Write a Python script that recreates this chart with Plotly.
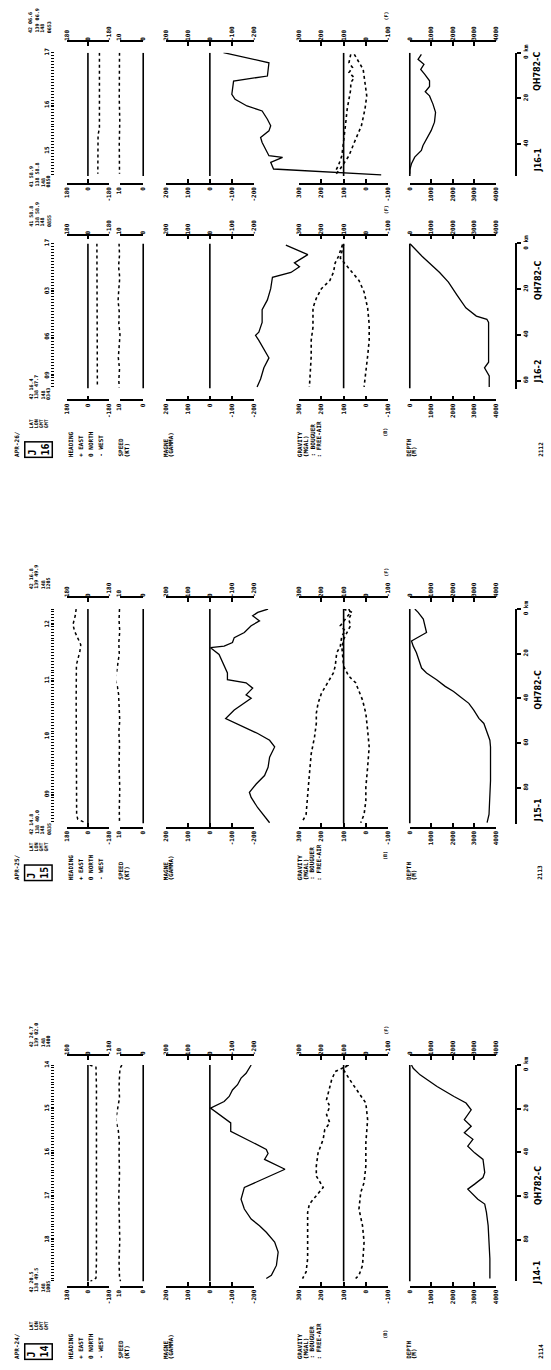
import plotly.graph_objects as go

W, H = 551, 1370
FONT = "DejaVu Sans Mono"

# ---------------------------------------------------------------- data
# distance along track (km) and values

# ---- line J16-1 (upper segment of sheet 2112)
J161_HEAD_KM = [0, 20, 33, 36, 53]
J161_HEAD = [-100, -98, -100, -88, -86]
J161_SPEED_KM = [0, 10, 20, 30, 40, 53]
J161_SPEED = [10.0, 10.2, 10.1, 9.9, 10.1, 10.0]
J161_MAG_KM = [0, 4.4, 10.2, 12.4, 18.2, 20.4, 23.3, 25.5, 29.1, 32, 34.2, 37.1, 39.3, 42.2, 45.1, 45.8, 48, 50.9, 53.5]
J161_MAG = [-62, -269, -262, -108, -100, -115, -169, -238, -262, -277, -269, -231, -238, -254, -269, -331, -277, -290, -780]
J161_BOUG_KM = [0.7, 4.4, 6.5, 8.7, 10.9, 13.1, 16, 20.4, 24.7, 32, 39.3, 45.1, 49.5, 52.4]
J161_BOUG = [68, 76, 60, 76, 52, 68, 68, 76, 84, 92, 100, 108, 124, 140]
J161_FAIR_KM = [0.7, 4.4, 7.3, 13.1, 18.9, 24.7, 32, 39.3, 45.1, 50.9, 53.8]
J161_FAIR = [52, 28, 12, 4, -4, 4, 20, 52, 76, 116, 140]
J161_DEPTH_KM = [0.7, 2.9, 5.1, 7.3, 9.4, 12.3, 14.8, 17.1, 18.9, 22.5, 26.1, 30.4, 34, 37.7, 40.6, 42.8, 45.7, 48.6, 51.4, 53]
J161_DEPTH = [540, 385, 660, 510, 690, 920, 920, 720, 920, 1080, 1200, 1150, 1000, 770, 615, 540, 230, 77, 0, 0]

# ---- line J16-2 (lower segment of sheet 2112)
J162_HEAD_KM = [0, 20, 40, 63]
J162_HEAD = [-78, -80, -82, -82]
J162_SPEED_KM = [0, 5, 10, 15, 20, 25, 30, 35, 40, 45, 50, 55, 60, 63]
J162_SPEED = [10.2, 10.0, 10.4, 9.9, 10.3, 10.6, 10.1, 10.3, 9.8, 10.2, 10.5, 10.0, 10.3, 10.1]
J162_MAG_KM = [0.7, 4.9, 8.5, 10.2, 12.7, 14.8, 19.8, 24.7, 29, 34.6, 38.8, 40.2, 42.4, 46.6, 50.1, 54.4, 59.3, 62.8]
J162_MAG = [-346, -446, -385, -408, -369, -285, -277, -262, -238, -238, -223, -208, -223, -246, -269, -246, -231, -215]
J162_BOUG_KM = [0.5, 5.6, 8.5, 12.7, 16.2, 19.8, 24, 28.2, 36.7, 42.4, 49.4, 56.5, 62.8]
J162_BOUG = [105, 123, 138, 146, 162, 200, 223, 238, 238, 246, 246, 249, 254]
J162_FAIR_KM = [0.5, 6.4, 9.9, 12.7, 16.2, 21.2, 28.2, 35.3, 42.4, 49.4, 56.5, 62.8]
J162_FAIR = [100, 115, 85, 62, 31, 8, -8, -15, -15, -8, 0, 8]
J162_DEPTH_KM = [0, 5.6, 12.7, 16.9, 22.6, 28.2, 31.8, 33.2, 34.6, 52, 54.4, 56.5, 58, 62.8]
J162_DEPTH = [0, 570, 1390, 1800, 2200, 2610, 3100, 3590, 3670, 3670, 3480, 3590, 3700, 3700]

# ---- line J15-1 (sheet 2113)
J15_HEAD_KM = [0, 3, 7, 10, 13, 16, 19, 22, 25, 40, 60, 80, 92, 94, 95.6]
J15_HEAD = [102, 110, 130, 115, 88, 62, 70, 87, 100, 102, 100, 103, 98, 88, 25]
J15_SPEED_KM = [0, 5, 10, 15, 20, 25, 28, 31, 34, 38, 45, 50, 55, 60, 70, 80, 90, 95.6]
J15_SPEED = [10, 10.2, 9.9, 10.3, 10.1, 10.6, 11.2, 12.0, 11.0, 10.4, 10.2, 9.9, 10.3, 10.0, 10.2, 9.9, 10.1, 10.0]
J15_MAG_KM = [0, 1.5, 3, 5.3, 7.5, 10.5, 12.8, 15, 16.6, 17.3, 20.3, 23.3, 25.6, 28.6, 31.6, 33, 35.4, 38.4, 39.9,
              42.2, 45.2, 49, 52.7, 55.7, 58.7, 61.7, 66.3, 70.8, 74.5, 78.3, 82, 84.3, 88.9, 92.6, 95.6]
J15_MAG = [-265, -218, -195, -226, -188, -157, -111, -103, -65, -3, -42, -57, -65, -80, -80, -165, -195, -165, -188,
           -157, -111, -72, -157, -218, -272, -295, -272, -265, -249, -211, -180, -188, -218, -249, -272]
J15_BOUG_KM = [0, 1.5, 4.5, 7.5, 9.8, 12, 16.6, 19.6, 25.6, 28.6, 37.7, 42.2, 46.7, 51.2, 57.2, 64.8, 73.8, 84.3, 91.9, 94.9]
J15_BOUG = [77, 69, 92, 115, 92, 108, 115, 131, 138, 146, 200, 215, 223, 223, 231, 246, 254, 262, 269, 285]
J15_FAIR_KM = [0, 1.5, 4.5, 7.5, 10.5, 13.6, 17, 21, 25.6, 30, 33, 40.7, 46.7, 54.2, 61.7, 70.8, 79.8, 85.8, 91.9, 95.6]
J15_FAIR = [100, 62, 77, 69, 85, 100, 108, 104, 100, 77, 46, 15, 0, -8, -15, -8, 0, 0, 8, 23]
J15_DEPTH_KM = [0, 1.5, 4.5, 7.5, 10.5, 14.3, 16.6, 19.6, 24.1, 26.4, 28.6, 31.6, 34.6, 36.9, 39.2, 42.2, 45.2, 48.9,
                51.2, 55.7, 58.7, 61.7, 76.8, 91.9, 95.6]
J15_DEPTH = [235, 390, 630, 700, 780, 80, 160, 310, 470, 550, 780, 1250, 1650, 2040, 2350, 2750, 2980, 3220,
             3450, 3610, 3730, 3760, 3760, 3690, 3600]

# ---- line J14-1 (sheet 2114)
J14_HEAD_KM = [0, 1, 10, 30, 50, 70, 90, 97.5, 99]
J14_HEAD = [-15, -70, -74, -75, -76, -75, -74, -70, -22]
J14_SPEED_KM = [0, 1.5, 5, 10, 15, 20, 25, 30, 35, 40, 50, 60, 70, 80, 90, 97, 99]
J14_SPEED = [9.0, 9.8, 10.0, 10.2, 10.0, 11.0, 11.6, 10.5, 10.1, 10.2, 10.0, 10.3, 10.1, 9.9, 10.2, 10.0, 9.6]
J14_MAG_KM = [0, 3.8, 6, 9, 11.4, 14.4, 16.7, 19.7, 26.5, 30.3, 38.6, 40.5, 43.2, 45.4, 47.7, 56, 61.4, 65.9, 70.5,
              73.5, 76.5, 81, 85.6, 91.7, 96.2, 97.7]
J14_MAG = [-188, -165, -142, -126, -103, -88, -65, -3, -95, -95, -257, -265, -249, -295, -342, -157, -142, -157, -188,
           -226, -257, -295, -311, -303, -280, -257]
J14_BOUG_KM = [0, 3, 6.8, 12.9, 15.9, 18.9, 22.7, 26.5, 29.5, 34, 36.4, 40.2, 46.2, 50.8, 56, 59.8, 63.6, 67.4, 88.6, 94.7, 97.7]
J14_BOUG = [77, 138, 154, 169, 177, 162, 177, 162, 185, 192, 200, 215, 223, 223, 192, 223, 254, 262, 262, 269, 285]
J14_FAIR_KM = [0, 2.3, 8.3, 12.9, 17.4, 25, 35.6, 46.2, 53.8, 58.3, 65.9, 73.5, 81, 91.7, 96.2, 97.7]
J14_FAIR = [85, 100, 62, 31, 0, -8, 0, 0, 8, 23, 31, 15, 8, 15, 31, 46]
J14_DEPTH_KM = [0, 1.5, 4.5, 9.8, 14.4, 17.4, 20.5, 25, 28, 31, 34, 37.1, 40.2, 43.2, 49.2, 51.5, 54.5, 56.8, 61.4,
                63.6, 67.4, 73.5, 88.6, 97.7]
J14_DEPTH = [80, 160, 480, 1270, 2060, 2620, 2860, 2540, 2860, 2540, 2940, 2700, 3020, 3410, 3490, 3410, 3020, 2700,
             3170, 3490, 3570, 3650, 3730, 3730]

# reference (base) lines of each strip
REF_VALUES = {"head": 0, "speed": 0, "mag": 0, "grav": 100, "depth": 0}

# axis ticks of each strip
HEAD_TICKS = [180, 0, -180]
SPEED_TICKS = [10, 0]
MAG_TICKS = [200, 100, 0, -100, -200]
GRAV_TICKS = [300, 200, 100, 0, -100]
DEPTH_TICKS = [0, 1000, 2000, 3000, 4000]

# time marks (hour labels) along each line
J161_TIME_KM = [0, 23, 43]
J161_TIME = ["17", "16", "15"]
J162_TIME_KM = [0, 21, 41, 58]
J162_TIME = ["17", "03", "06", "09"]
J15_TIME_KM = [7, 32, 57, 83]
J15_TIME = ["12", "11", "10", "09"]
J14_TIME_KM = [0, 20, 40, 60, 80]
J14_TIME = ["14", "15", "16", "17", "18"]

# distance scale marks
J161_SCALE = [0, 20, 40]
J162_SCALE = [0, 20, 40, 60]
J15_SCALE = [0, 20, 40, 60, 80]
J14_SCALE = [0, 20, 40, 60, 80]

# ---------------------------------------------------------------- layout geometry
ROWS = [
    # key, value at left end, value at right end, px left, px right, extra px (left,right), ticks
    ("head", 180, -180, 64, 106, (3, 3), HEAD_TICKS),
    ("speed", 10, 0, 117, 141, (3, 3), SPEED_TICKS),
    ("mag", 200, -200, 164, 253, (3, 150), MAG_TICKS),
    ("grav", 300, -100, 299, 389, (3, 20), GRAV_TICKS),
    ("depth", 0, 4000, 411, 498, (3, 3), DEPTH_TICKS),
]

SECTIONS = [
    dict(km0=44, ppk=2.3, kmax=54, top=33, bot=175,
         data=dict(head=(J161_HEAD_KM, J161_HEAD), speed=(J161_SPEED_KM, J161_SPEED), mag=(J161_MAG_KM, J161_MAG),
                   boug=(J161_BOUG_KM, J161_BOUG), fair=(J161_FAIR_KM, J161_FAIR), depth=(J161_DEPTH_KM, J161_DEPTH)),
         time=(J161_TIME_KM, J161_TIME), scale=J161_SCALE,
         track=[("QH782-C", 8), ("J16-1", 47)],
         toppos=["42 06.6", "139 06.9", "148", "0653"], botpos=["41 58.9", "138 58.8", "148", "0850"]),
    dict(km0=236, ppk=2.3, kmax=63.5, top=228, bot=393,
         data=dict(head=(J162_HEAD_KM, J162_HEAD), speed=(J162_SPEED_KM, J162_SPEED), mag=(J162_MAG_KM, J162_MAG),
                   boug=(J162_BOUG_KM, J162_BOUG), fair=(J162_FAIR_KM, J162_FAIR), depth=(J162_DEPTH_KM, J162_DEPTH)),
         time=(J162_TIME_KM, J162_TIME), scale=J162_SCALE,
         track=[("QH782-C", 16), ("J16-2", 56)],
         toppos=["41 58.8", "138 58.9", "148", "0855"], botpos=["42 16.4", "138 47.7", "148", "0343"]),
    dict(km0=604, ppk=2.25, kmax=96, top=593, bot=823,
         data=dict(head=(J15_HEAD_KM, J15_HEAD), speed=(J15_SPEED_KM, J15_SPEED), mag=(J15_MAG_KM, J15_MAG),
                   boug=(J15_BOUG_KM, J15_BOUG), fair=(J15_FAIR_KM, J15_FAIR), depth=(J15_DEPTH_KM, J15_DEPTH)),
         time=(J15_TIME_KM, J15_TIME), scale=J15_SCALE,
         track=[("QH782-C", 36), ("J15-1", 90)],
         toppos=["42 16.8", "139 49.9", "148", "1205"], botpos=["42 14.8", "138 40.0", "148", "0835"]),
    dict(km0=1063, ppk=2.2, kmax=99, top=1054, bot=1285,
         data=dict(head=(J14_HEAD_KM, J14_HEAD), speed=(J14_SPEED_KM, J14_SPEED), mag=(J14_MAG_KM, J14_MAG),
                   boug=(J14_BOUG_KM, J14_BOUG), fair=(J14_FAIR_KM, J14_FAIR), depth=(J14_DEPTH_KM, J14_DEPTH)),
         time=(J14_TIME_KM, J14_TIME), scale=J14_SCALE,
         track=[("QH782-C", 55), ("J14-1", 95)],
         toppos=["42 24.7", "139 02.0", "148", "1400"], botpos=["42 20.5", "138 49.5", "148", "1005"]),
]

PANELS = [
    dict(date="APR-26/", num="16", sheet="2112", yb=452),
    dict(date="APR-25/", num="15", sheet="2113", yb=878),
    dict(date="APR-24/", num="14", sheet="2114", yb=1360),
]

# ---------------------------------------------------------------- build
fig = go.Figure()
layout = {}
annotations = []
counters = {"x": 0, "y": 0}


def new_axis(letter):
    counters[letter] += 1
    i = counters[letter]
    name = f"{letter}axis" if i == 1 else f"{letter}axis{i}"
    ref = letter if i == 1 else f"{letter}{i}"
    return name, ref


def fx(p):
    return p / W


def fy(p):
    return 1 - p / H


TICKFONT = dict(family=FONT, size=6, color="black", weight="bold")


def rtext(txt, x, ybot, size=6, family=FONT, anchor="bottom", **kw):
    d = dict(text=txt, x=fx(x), y=fy(ybot), xref="paper", yref="paper", xanchor="center", yanchor=anchor,
             textangle=-90, showarrow=False, borderpad=0,
             font=dict(family=family, size=size, color="#000000", weight="bold"))
    d.update(kw)
    annotations.append(d)


def blank(xr, yr):
    fig.add_trace(go.Scatter(x=[None], y=[None], xaxis=xr, yaxis=yr, mode="lines", showlegend=False, hoverinfo="skip"))


for sec in SECTIONS:
    km0, ppk, kmax = sec["km0"], sec["ppk"], sec["kmax"]
    y_top_px, y_bot_px = km0, km0 + ppk * kmax

    # distance axis (drawn as the kilometre scale bar at the right)
    yd_name, yd_ref = new_axis("y")
    layout[yd_name] = dict(domain=[fy(y_bot_px), fy(y_top_px)], range=[kmax, 0], anchor="free", position=fx(519),
                           side="right", showline=True, linecolor="black", linewidth=1.5, ticks="outside",
                           ticklen=4, tickwidth=1.5, tickcolor="black", tickvals=sec["scale"],
                           ticktext=[("0 km" if v == 0 else str(v)) for v in sec["scale"]], tickangle=-90,
                           tickfont=TICKFONT, showgrid=False, zeroline=False)
    # time marks (dotted tick line at the left)
    yt_name, yt_ref = new_axis("y")
    layout[yt_name] = dict(overlaying=yd_ref, range=[kmax, 0], anchor="free", position=fx(51), side="left",
                           showline=False, ticks="outside", ticklen=3, tickwidth=1.2, tickcolor="black",
                           tickvals=sec["time"][0], ticktext=sec["time"][1], tickangle=-90, tickfont=TICKFONT,
                           minor=dict(tickmode="linear", tick0=0, dtick=1.3, ticks="outside", ticklen=3,
                                      tickwidth=1.2, tickcolor="black", showgrid=False),
                           showgrid=False, zeroline=False)
    # bracket axis (vertical frame of the strips)
    yb_name, yb_ref = new_axis("y")
    layout[yb_name] = dict(domain=[fy(sec["bot"]), fy(sec["top"])], range=[0, 1], visible=False)

    first_xd = None
    for key, vl, vr, pl, pr, (el, er), ticks in ROWS:
        def val(p):
            return vl + (p - pl) / (pr - pl) * (vr - vl)
        # data axis
        xd_name, xd_ref = new_axis("x")
        layout[xd_name] = dict(domain=[fx(pl - el), fx(pr + er)], range=[val(pl - el), val(pr + er)],
                               anchor=yd_ref, visible=False)
        if first_xd is None:
            first_xd = xd_ref
        # bracket axis (bottom + mirrored top)
        xb_name, xb_ref = new_axis("x")
        txt = [str(t) for t in ticks]
        layout[xb_name] = dict(domain=[fx(pl), fx(pr)], range=[vl, vr], anchor=yb_ref, side="bottom",
                               showline=True, linecolor="black", linewidth=1.6, mirror="ticks", ticks="inside",
                               ticklen=4, tickwidth=1.5, tickcolor="black", tickvals=ticks, ticktext=txt,
                               tickangle=-90, tickfont=TICKFONT, showgrid=False, zeroline=False)
        xt_name, xt_ref = new_axis("x")
        layout[xt_name] = dict(overlaying=xb_ref, range=[vl, vr], anchor=yb_ref, side="top", showline=False,
                               ticks="", tickvals=ticks, ticktext=txt, tickangle=-90, tickfont=TICKFONT,
                               showgrid=False, zeroline=False)
        blank(xb_ref, yb_ref)
        blank(xt_ref, yb_ref)

        # reference line
        ref = REF_VALUES[key]
        fig.add_trace(go.Scatter(x=[ref, ref], y=[0, kmax], xaxis=xd_ref, yaxis=yd_ref, mode="lines",
                                 line=dict(color="black", width=1.6), showlegend=False, hoverinfo="skip"))
        if key in ("head", "speed"):
            kms, vals = sec["data"][key]
            fig.add_trace(go.Scatter(x=vals, y=kms, xaxis=xd_ref, yaxis=yd_ref, mode="lines",
                                     line=dict(color="black", width=1.5, dash="dot"), showlegend=False))
        elif key == "mag":
            kms, vals = sec["data"]["mag"]
            fig.add_trace(go.Scatter(x=vals, y=kms, xaxis=xd_ref, yaxis=yd_ref, mode="lines",
                                     line=dict(color="black", width=1.3), showlegend=False))
        elif key == "grav":
            for g in ("boug", "fair"):
                kms, vals = sec["data"][g]
                fig.add_trace(go.Scatter(x=vals, y=kms, xaxis=xd_ref, yaxis=yd_ref, mode="lines",
                                         line=dict(color="black", width=1.6, dash="dot"), showlegend=False))
        elif key == "depth":
            kms, vals = sec["data"]["depth"]
            fig.add_trace(go.Scatter(x=vals, y=kms, xaxis=xd_ref, yaxis=yd_ref, mode="lines",
                                     line=dict(color="black", width=1.3), showlegend=False))
    layout[yb_name]["anchor"] = first_xd
    blank(first_xd, yt_ref)

    # track names beside the scale bar
    for name, km in sec["track"]:
        rtext(name, 541, km0 + ppk * km, size=8, family="DejaVu Sans", anchor="middle")
    # start / end positions
    for i, t in enumerate(sec["toppos"]):
        rtext(t, 27 + i * 6, sec["top"] - 8, size=5)
    for i, t in enumerate(sec["botpos"]):
        rtext(t, 27 + i * 6, y_bot_px + 12, size=5)
    rtext("(F)", 387, sec["top"] - 20, size=5)

for pan in PANELS:
    yb = pan["yb"]
    rtext(pan["date"], 12, yb, size=6)
    rtext("J<br>" + pan["num"], 35, yb, size=10,
          bordercolor="black", borderwidth=1.5, borderpad=1, align="left")
    for i, t in enumerate(["LAT", "LON", "GMT", "GMT"]):
        rtext(t, 27 + i * 5, yb - 29, size=5)
    for x, t in [(67, "HEADING"), (77, "+ EAST"), (87, "0 NORTH"), (97, "- WEST"),
                 (118, "SPEED"), (124, "(KT)"), (163, "MAGNE"), (169, "(GAMMA)"),
                 (299, "GRAVITY"), (305, "(MGAL)"), (312, ": BOUGUER"), (319, ": FREE-AIR"),
                 (409, "DEPTH"), (415, "(M)"), (543, pan["sheet"])]:
        rtext(t, x, yb, size=6)
    rtext("(B)", 386, yb - 20, size=5)

layout.update(dict(width=W, height=H, margin=dict(l=0, r=0, t=0, b=0), paper_bgcolor="white",
                   plot_bgcolor="rgba(0,0,0,0)", showlegend=False, annotations=annotations,
                   font=dict(family=FONT, color="black")))
fig.update_layout(**layout)
fig.write_html("out.html", config={"displayModeBar": False},
               post_script="document.body.style.margin='0';document.body.style.overflow='hidden';")
